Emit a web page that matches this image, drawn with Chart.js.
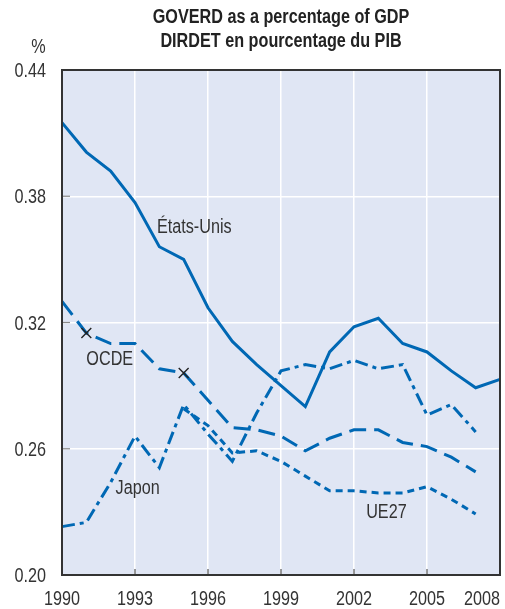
<!DOCTYPE html>
<html>
<head>
<meta charset="utf-8">
<script src="https://cdn.jsdelivr.net/npm/chart.js@4.4.1/dist/chart.umd.min.js"></script>
<style>
  html, body { margin: 0; padding: 0; background: #fff; }
  #wrap { width: 505px; height: 609px; }
</style>
</head>
<body>
<div id="wrap"><canvas id="chart" width="505" height="609"></canvas></div>
<script>
const years = ['1990', '1991', '1992', '1993', '1994', '1995', '1996', '1997', '1998', '1999',
  '2000', '2001', '2002', '2003', '2004', '2005', '2006', '2007', '2008'];
const xTickYears = ['1990', '1993', '1996', '1999', '2002', '2005', '2008'];
const yTicks = [0.20, 0.26, 0.32, 0.38, 0.44];

const etatsUnis = [0.415, 0.401, 0.392, 0.377, 0.356, 0.350, 0.327, 0.311, 0.300, 0.290,
  0.280, 0.306, 0.318, 0.322, 0.310, 0.306, 0.297, 0.289, 0.293];
const ocde = [0.330, 0.315, 0.310, 0.310, 0.298, 0.296, 0.283, 0.270, 0.269, 0.266,
  0.259, 0.265, 0.269, 0.269, 0.263, 0.261, 0.256, 0.249, null];
const japon = [0.223, 0.225, 0.244, 0.266, 0.251, 0.281, 0.267, 0.254, 0.277, 0.297,
  0.300, 0.298, 0.302, 0.298, 0.300, 0.276, 0.281, 0.268, null];
const ue27 = [null, null, null, null, null, 0.279, 0.271, 0.258, 0.259, 0.254,
  0.247, 0.240, 0.240, 0.239, 0.239, 0.242, 0.236, 0.229, null];

// breaks in the OECD series, marked with a cross
const ocdeBreaks = ['1991', '1995'];

// series names written on the plot: [text, year, value] (left/baseline)
const seriesLabels = [
  ['États-Unis', 1993.9, 0.3625],
  ['OCDE', 1991.0, 0.300],
  ['Japon', 1992.2, 0.2385],
  ['UE27', 2002.5, 0.227]
];

const blue = '#0068b4';
const FONT = "'Liberation Sans', Arial, sans-serif";
const SQUEEZE = 0.81; // the original uses a condensed face

// draw text squeezed horizontally, anchored like fillText
function narrowText(ctx, text, x, y, align) {
  let w = ctx.measureText(text).width * SQUEEZE;
  let left = x;
  if (align === 'center') left = x - w / 2;
  if (align === 'right') left = x - w;
  ctx.save();
  ctx.translate(left, y);
  ctx.scale(SQUEEZE, 1);
  ctx.textAlign = 'left';
  ctx.fillText(text, 0, 0);
  ctx.restore();
}

const decorPlugin = {
  id: 'decor',
  beforeDraw(chart) {
    let ctx = chart.ctx;
    let a = chart.chartArea;
    ctx.save();
    ctx.fillStyle = '#e0e6f4';
    ctx.fillRect(a.left, a.top, a.right - a.left, a.bottom - a.top);
    ctx.restore();
  },
  afterDraw(chart) {
    let ctx = chart.ctx;
    let a = chart.chartArea;
    let xs = chart.scales.x;
    let ys = chart.scales.y;
    ctx.save();

    // small tick marks inside the frame
    ctx.strokeStyle = '#555';
    ctx.lineWidth = 1.2;
    xTickYears.slice(1, -1).forEach(yr => {
      let px = xs.getPixelForValue(years.indexOf(yr));
      ctx.beginPath();
      ctx.moveTo(px, a.bottom);
      ctx.lineTo(px, a.bottom - 6);
      ctx.stroke();
    });
    ctx.strokeStyle = '#888';
    yTicks.slice(1, -1).forEach(v => {
      let py = ys.getPixelForValue(v);
      ctx.beginPath();
      ctx.moveTo(a.left, py);
      ctx.lineTo(a.left + 8, py);
      ctx.stroke();
    });

    // frame
    ctx.strokeStyle = '#333';
    ctx.lineWidth = 2;
    ctx.strokeRect(a.left, a.top, a.right - a.left, a.bottom - a.top);

    ctx.fillStyle = '#333';
    ctx.font = '20px ' + FONT;
    ctx.textBaseline = 'alphabetic';

    // x tick labels
    xTickYears.forEach((yr, i) => {
      if (i === xTickYears.length - 1) {
        narrowText(ctx, yr, a.right, 605, 'right');
      } else {
        narrowText(ctx, yr, xs.getPixelForValue(years.indexOf(yr)), 605, 'center');
      }
    });

    // y tick labels
    yTicks.forEach(v => {
      narrowText(ctx, v.toFixed(2), 46, ys.getPixelForValue(v) + 7, 'right');
    });

    // unit
    narrowText(ctx, '%', 38.5, 53, 'center');

    // series names
    seriesLabels.forEach(l => {
      let px = xs.getPixelForValue(l[1] - 1990);
      let py = ys.getPixelForValue(l[2]);
      narrowText(ctx, l[0], px, py, 'left');
    });

    // title
    ctx.fillStyle = '#222';
    ctx.font = 'bold 20px ' + FONT;
    let cx = (a.left + a.right) / 2;
    narrowText(ctx, 'GOVERD as a percentage of GDP', cx, 23, 'center');
    narrowText(ctx, 'DIRDET en pourcentage du PIB', cx, 47, 'center');
    ctx.restore();
  }
};

function lineSet(label, data, dash) {
  return {
    label: label,
    data: data,
    borderColor: blue,
    backgroundColor: blue,
    borderWidth: 3,
    borderDash: dash,
    borderJoinStyle: 'miter',
    borderCapStyle: 'butt',
    pointRadius: 0,
    pointHoverRadius: 0,
    fill: false,
    tension: 0,
    spanGaps: false
  };
}

let ocdeSet = lineSet('OCDE', ocde, [17, 8]);
ocdeSet.pointStyle = 'crossRot';
ocdeSet.pointRadius = years.map(y => ocdeBreaks.includes(y) ? 7 : 0);
ocdeSet.pointBorderColor = '#222';
ocdeSet.pointBorderWidth = 1.4;

let chart = new Chart(document.getElementById('chart').getContext('2d'), {
  type: 'line',
  data: {
    labels: years,
    datasets: [
      lineSet('États-Unis', etatsUnis, []),
      ocdeSet,
      lineSet('Japon', japon, [13, 5, 4, 5]),
      lineSet('UE27', ue27, [7, 5])
    ]
  },
  options: {
    responsive: false,
    animation: false,
    events: [],
    layout: { padding: { top: 70, right: 5, bottom: 0, left: 0 } },
    plugins: {
      legend: { display: false },
      tooltip: { enabled: false },
      title: { display: false }
    },
    scales: {
      x: {
        type: 'category',
        offset: false,
        border: { display: false },
        grid: {
          drawTicks: false,
          lineWidth: 1.5,
          color: c => (c.index % 3 === 0 && c.index > 0 && c.index < years.length - 1) ? '#ffffff' : 'rgba(0,0,0,0)'
        },
        ticks: { display: false, autoSkip: false },
        afterFit: s => { s.height = 34; }
      },
      y: {
        min: 0.20,
        max: 0.44,
        border: { display: false },
        grid: { drawTicks: false, color: '#ffffff', lineWidth: 1.5 },
        afterBuildTicks: s => { s.ticks = yTicks.map(v => ({ value: v })); },
        ticks: { display: false },
        afterFit: s => { s.width = 62; }
      }
    }
  },
  plugins: [decorPlugin]
});
</script>
</body>
</html>
